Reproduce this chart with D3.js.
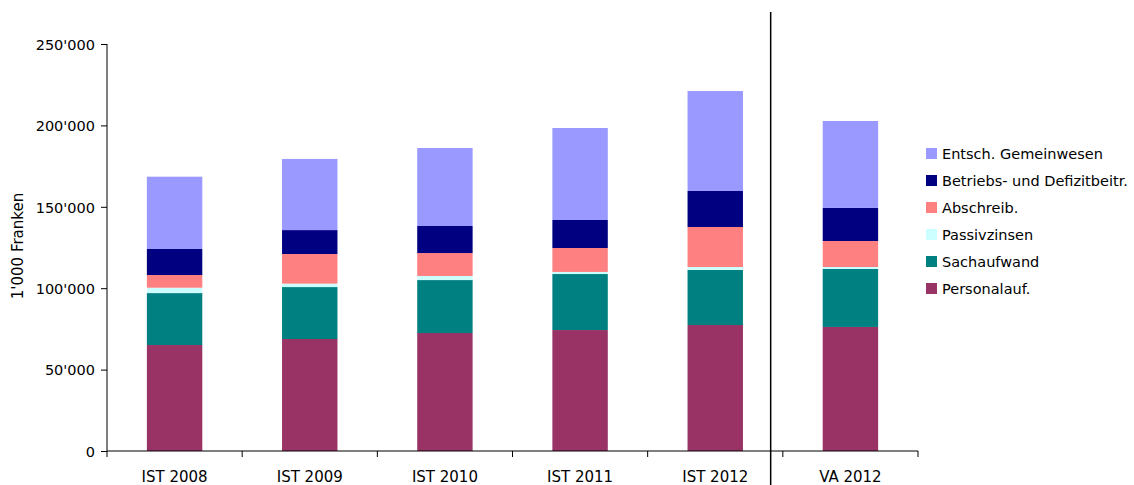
<!DOCTYPE html>
<html>
<head>
<meta charset="utf-8">
<script src="https://cdn.jsdelivr.net/npm/d3@7"></script>
<style>
  body { margin: 0; background: #fff; }
  svg { display: block; }
  text { font-family: "DejaVu Sans", Verdana, sans-serif; fill: #000; }
</style>
</head>
<body>
<svg id="chart" width="1134" height="485"></svg>
<script>
// ---- data (values in 1'000 Franken) ----
const categories = ["IST 2008", "IST 2009", "IST 2010", "IST 2011", "IST 2012", "VA 2012"];
const seriesNames = ["Personalauf.", "Sachaufwand", "Passivzinsen", "Abschreib.", "Betriebs- und Defizitbeitr.", "Entsch. Gemeinwesen"];
const personalauf   = [65100, 68800, 72500, 74300, 77400, 76200];
const sachaufwand   = [31900, 31900, 32500, 34400, 33800, 35600];
const passivzinsen  = [3300,  2100,  2500,  1300,  1800,  1200];
const abschreib     = [7800,  18200, 14100, 14700, 24600, 16000];
const betriebsbeitr = [16000, 14700, 16600, 17200, 22100, 20300];
const entschGemein  = [44400, 43700, 47900, 56500, 61400, 53400];
const yTicks = [0, 50000, 100000, 150000, 200000, 250000];
const yTickLabels = ["0", "50'000", "100'000", "150'000", "200'000", "250'000"];
const yTitle = "1'000 Franken";
const colors = ["#993366", "#008080", "#CCFFFF", "#FF8080", "#000080", "#9999FF"];

const seriesValues = [personalauf, sachaufwand, passivzinsen, abschreib, betriebsbeitr, entschGemein];
const table = categories.map((c, i) => {
  const row = { cat: c };
  seriesNames.forEach((s, j) => row[s] = seriesValues[j][i]);
  return row;
});

const svg = d3.select("#chart");
const mLeft = 107, mRight = 918, mTop = 44, mBottom = 451;

const x = d3.scaleBand().domain(categories).range([mLeft, mRight]).paddingInner(0.59).paddingOuter(0.295);
const y = d3.scaleLinear().domain([0, 250000]).range([mBottom, mTop]);

const stack = d3.stack().keys(seriesNames)(table);

svg.append("g").selectAll("g").data(stack).join("g")
  .attr("fill", (d, i) => colors[i])
  .selectAll("rect").data(d => d).join("rect")
  .attr("x", d => x(d.data.cat))
  .attr("width", x.bandwidth())
  .attr("y", d => y(d[1]))
  .attr("height", d => y(d[0]) - y(d[1]));

// y axis
const yAxis = svg.append("g").attr("transform", `translate(${mLeft},0)`)
  .call(d3.axisLeft(y).tickValues(yTicks).tickFormat((d, i) => yTickLabels[i]).tickSize(6).tickPadding(6));
yAxis.select(".domain").attr("stroke", "#000").attr("d", `M0,${mTop}V${mBottom}`);
yAxis.selectAll("line").attr("stroke", "#000");
yAxis.selectAll("text").style("font-size", "14.5px").attr("dy", "0.36em");

// x axis
const xAxis = svg.append("g").attr("transform", `translate(0,${mBottom})`);
xAxis.append("line").attr("x1", mLeft).attr("x2", mRight).attr("stroke", "#000");
const bounds = d3.range(categories.length + 1).map(i => mLeft + i * (mRight - mLeft) / categories.length);
xAxis.selectAll("line.tick").data(bounds).join("line").attr("class", "tick")
  .attr("x1", d => d).attr("x2", d => d).attr("y1", 0).attr("y2", 6).attr("stroke", "#000");
xAxis.selectAll("text").data(categories).join("text")
  .attr("x", d => x(d) + x.bandwidth() / 2)
  .attr("y", 31)
  .attr("text-anchor", "middle")
  .style("font-size", "15px")
  .text(d => d);

// separator line between IST and VA (slightly left of the category boundary)
const sepX = x("VA 2012") - x.step() * 0.385;
svg.append("line").attr("x1", sepX).attr("x2", sepX).attr("y1", 12).attr("y2", 485)
  .attr("stroke", "#000").attr("stroke-width", 1.5);

// y title
svg.append("text")
  .attr("transform", `translate(23,246) rotate(-90)`)
  .attr("text-anchor", "middle")
  .style("font-size", "15px")
  .text(yTitle);

// legend (reverse order)
const legendItems = seriesNames.map((s, i) => ({ s, c: colors[i] })).reverse();
const lg = svg.append("g").selectAll("g").data(legendItems).join("g")
  .attr("transform", (d, i) => `translate(926,${148 + i * 27})`);
lg.append("rect").attr("width", 11).attr("height", 11).attr("fill", d => d.c);
lg.append("text").attr("x", 16).attr("y", 11).style("font-size", "14.5px").text(d => d.s);
</script>
</body>
</html>
